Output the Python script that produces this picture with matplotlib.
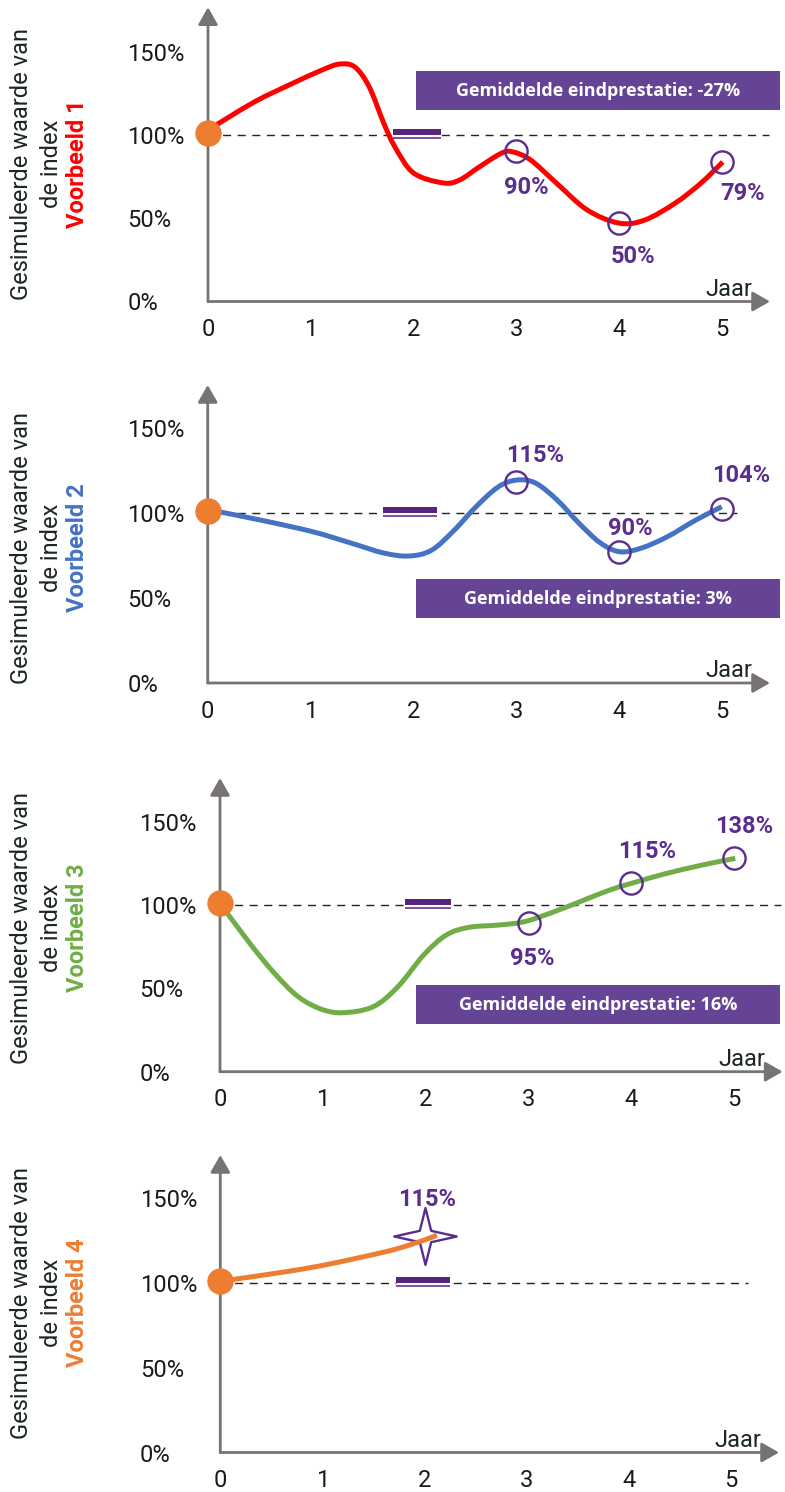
import numpy as np
import matplotlib.pyplot as plt
from matplotlib.path import Path
from matplotlib.patches import PathPatch, Rectangle

plt.rcParams['font.family'] = ['Roboto', 'DejaVu Sans']

years_1 = [0.0, 0.45, 0.83, 1.11, 1.28, 1.43, 1.57, 1.71, 1.82, 2.0, 2.29, 2.45,
           2.64, 2.86, 2.97, 3.14, 3.39, 3.69, 4.0, 4.25, 4.55, 4.80, 5.01]
values_1 = [103, 119.8, 131.2, 139, 142.6, 140.8, 128.8, 107.2, 92.8, 77.2, 71.2, 73,
            80.8, 89.2, 89.8, 85, 71.2, 55, 47.1, 48.9, 59.2, 71.2, 83.8]

years_2 = [0.0, 0.51, 1.02, 1.39, 1.71, 1.96, 2.18, 2.40, 2.61, 2.83, 3.01, 3.19,
           3.40, 3.61, 3.82, 4.01, 4.22, 4.47, 4.75, 5.0]
values_2 = [102, 95.9, 89, 82.4, 76.5, 74.7, 78.2, 90, 103.7, 115.5, 119.4, 117.6,
            107.6, 94.1, 82.4, 77.2, 79.4, 86, 95.9, 103.7]

years_3 = [0.0, 0.29, 0.53, 0.76, 0.99, 1.20, 1.49, 1.73, 1.98, 2.20, 2.42, 2.71,
           2.96, 3.25, 3.54, 3.79, 4.0, 4.32, 4.69, 5.01]
values_3 = [101, 77, 59, 45, 37.4, 35.4, 39, 51, 70, 82, 86.6, 88,
            90, 96, 103, 109, 113, 118.6, 124, 128]

years_4 = [0.0, 0.14, 0.57, 0.97, 1.38, 1.72, 2.02, 2.12]
values_4 = [101, 102.2, 106, 110, 115.2, 120, 125.8, 128.3]

# gemarkeerde punten
mark_years = [[3, 4, 5], [3, 4, 5], [3, 4, 5], [2]]
mark_values = [[90.5, 47, 84], [118, 77, 102.5], [89.5, 113, 128], [128]]
mark_labels = [['90%', '50%', '79%'], ['115%', '90%', '104%'], ['95%', '115%', '138%'], ['115%']]

names = ['Voorbeeld 1', 'Voorbeeld 2', 'Voorbeeld 3', 'Voorbeeld 4']
colors = ['#ff0000', '#4472c4', '#70ad47', '#ed7d31']
box_texts = ['Gemiddelde eindprestatie: -27%', 'Gemiddelde eindprestatie: 3%',
             'Gemiddelde eindprestatie: 16%', None]
bar_years = [(1.80, 2.27), (1.71, 2.23), (1.80, 2.25), (1.72, 2.25)]
start_value = 101
x_ticks = [0, 1, 2, 3, 4, 5]
y_ticks = [0, 50, 100, 150]

# opmaak (pixels in de figuur)
W, H = 785, 1492
panel_px = [(208, 7.3, 770, 301.5), (207.7, 385, 770, 683),
            (220, 778, 782.6, 1071.7), (220.3, 1155, 779, 1452.5)]
ylims = [176.7, 175.3, 176.2, 175.5]
dash_end = [5.46, 5.15, 5.45, 5.17]
label_y_px = [164, 548, 928, 1303]
box_px = [(71, 110), (579, 618), (985, 1024), None]
label_offsets = [[(10, -36.6), (14, -33.4), (21, -31.6)],
                 [(18.7, 27), (11.5, 24), (19.8, 33.3)],
                 [(3.5, -35.6), (15.5, 32.3), (9.5, 32.3)],
                 [(2, 36.4)]]

GREY = '#777373'
PURPLE = '#5b2d8e'
BOX = '#664495'
BAR = '#58237e'
TXT = '#1c2626'

star = Path([(0, 1), (0.2, 0.2), (1.1, 0), (0.2, -0.2), (0, -1),
             (-0.2, -0.2), (-1.1, 0), (-0.2, 0.2), (0, 1)],
            [Path.MOVETO] + [Path.LINETO] * 7 + [Path.CLOSEPOLY])


def smooth_path(xs, ys):
    pts = np.column_stack([xs, ys]).astype(float)
    n = len(pts)
    verts = [pts[0]]
    codes = [Path.MOVETO]
    for i in range(n - 1):
        p0 = pts[i - 1] if i > 0 else pts[i]
        p1 = pts[i]
        p2 = pts[i + 1]
        p3 = pts[i + 2] if i + 2 < n else pts[i + 1]
        verts += [p1 + (p2 - p0) / 6, p2 - (p3 - p1) / 6, p2]
        codes += [Path.CURVE4] * 3
    return Path(verts, codes)


series = [(years_1, values_1), (years_2, values_2), (years_3, values_3), (years_4, values_4)]

fig = plt.figure(figsize=(W / 100, H / 100), dpi=100)

for i in range(4):
    l, t, r, b = panel_px[i]
    ax = fig.add_axes([l / W, 1 - b / H, (r - l) / W, (b - t) / H])
    ax.set_xlim(0, 5.47)
    ax.set_ylim(0, ylims[i])
    for s in ax.spines.values():
        s.set_visible(False)
    ax.set_xticks(x_ticks)
    ax.set_xticklabels([str(v) for v in x_ticks])
    ax.set_yticks(y_ticks)
    ax.set_yticklabels([f'{v}%' for v in y_ticks])
    ax.tick_params(axis='x', length=0, pad=12, labelsize=17, labelcolor='#1a1a1a')
    ax.tick_params(axis='y', length=0, pad=58, labelsize=17, labelcolor='#1a1a1a')
    for lab in ax.get_yticklabels():
        lab.set_horizontalalignment('left')

    # assen met pijlen
    arrow = dict(arrowstyle='-|>,head_length=0.7,head_width=0.4', mutation_scale=15,
                 lw=2, color=GREY, shrinkA=0, shrinkB=0)
    ax.annotate('', xy=(1, 0), xytext=(0, 0), xycoords='axes fraction', arrowprops=arrow)
    ax.annotate('', xy=(0, 1), xytext=(0, 0), xycoords='axes fraction', arrowprops=arrow)
    ax.annotate('Jaar', xy=(5.07, 0), xytext=(0, 4), textcoords='offset points',
                ha='center', va='baseline', fontsize=17, color=TXT)

    # stippellijn op 100%
    ax.plot([0, dash_end[i]], [100, 100], ls=(0, (5.8, 4.7)), lw=1, color='#222222', zorder=2)
    b0, b1 = bar_years[i]
    ax.plot([b0, b1], [100, 100], color='white', lw=3.6, solid_capstyle='butt', zorder=3)
    ax.plot([b0, b1], [101.8, 101.8], color=BAR, lw=4.3, solid_capstyle='butt', zorder=4)
    ax.plot([b0, b1], [98, 98], color=BAR, lw=1.1, solid_capstyle='butt', zorder=4)

    xs, ys = series[i]
    ax.add_patch(PathPatch(smooth_path(xs, ys), facecolor='none', edgecolor=colors[i],
                           lw=3.6, capstyle='butt', zorder=6))
    ax.plot(0, start_value, 'o', ms=18, color='#ed7d31', zorder=8, clip_on=False)

    for j, (mx, my) in enumerate(zip(mark_years[i], mark_values[i])):
        if i == 3:
            ax.plot(mx, my, marker=star, ms=45, mfc='white', mec=PURPLE, mew=1.7,
                    ls='none', zorder=5)
        else:
            ax.plot(mx, my, 'o', ms=16, mfc='none', mec=PURPLE, mew=1.7, zorder=7)
        dx, dy = label_offsets[i][j]
        ax.annotate(mark_labels[i][j], xy=(mx, my), xytext=(dx * 0.72, dy * 0.72),
                    textcoords='offset points', ha='center', va='center',
                    fontsize=17, fontweight='bold', color=PURPLE, zorder=9)

    # y-as titel
    yc = 1 - label_y_px[i] / H
    fig.text(22 / W, yc, 'Gesimuleerde waarde van', rotation=90, ha='center', va='center',
             fontsize=17, color=TXT)
    fig.text(51 / W, yc, 'de index', rotation=90, ha='center', va='center',
             fontsize=17, color=TXT)
    fig.text(78 / W, yc, names[i], rotation=90, ha='center', va='center',
             fontsize=17, fontweight='bold', color=colors[i])

    if box_texts[i]:
        bt, bb = box_px[i]
        fig.add_artist(Rectangle((416 / W, 1 - bb / H), (780 - 416) / W, (bb - bt) / H,
                                 transform=fig.transFigure, color=BOX, lw=0))
        fig.text(598 / W, 1 - (bt + bb) / 2 / H, box_texts[i], ha='center', va='center',
                 fontsize=13, fontweight='bold', color='white', family=['Open Sans', 'DejaVu Sans'])

fig.savefig('out.png', dpi=100)
